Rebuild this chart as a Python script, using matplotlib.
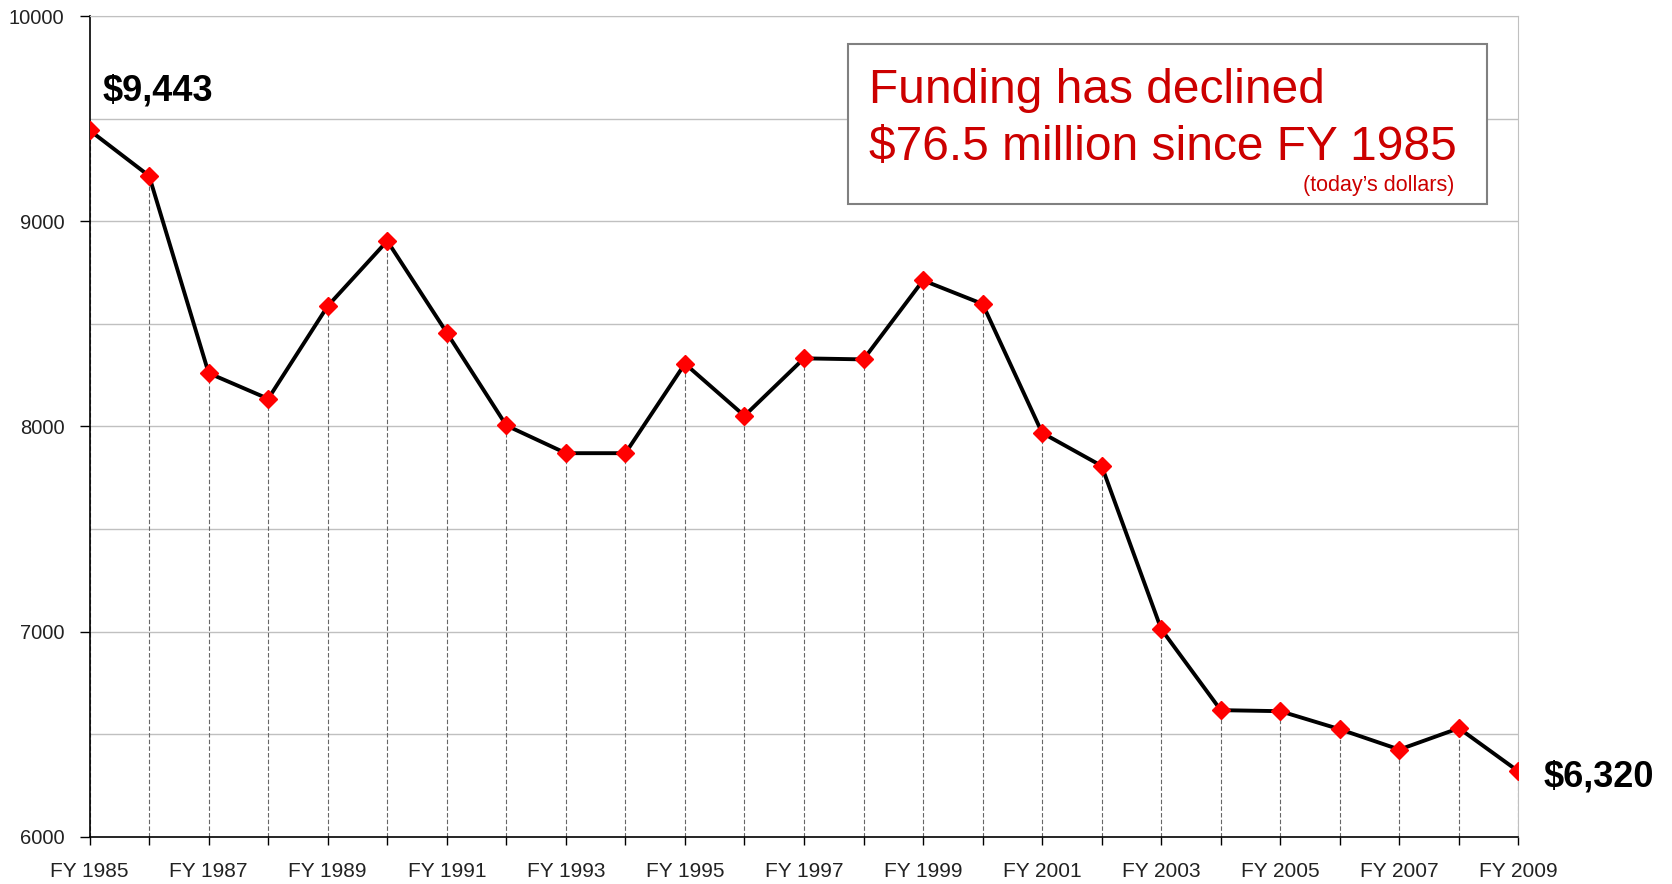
import numpy as np
import matplotlib.pyplot as plt
from matplotlib.patches import Rectangle

plt.rcParams['font.family'] = ['Liberation Sans', 'DejaVu Sans']

# funding by fiscal year (today's dollars)
years = list(range(1985, 2010))
funding = [9443, 9221, 8260, 8135, 8587, 8904, 8457, 8005, 7870, 7870,
           8306, 8052, 8332, 8327, 8712, 8597, 7969, 7808, 7013, 6618,
           6613, 6525, 6426, 6530, 6320]
tick_labels = ['FY %d' % y if (y - 1985) % 2 == 0 else '' for y in years]

W, H = 1672, 884
fig = plt.figure(figsize=(W / 100, H / 100), dpi=100)
ax = fig.add_axes([89.6 / W, 1 - 837 / H, (1518.4 - 89.6) / W, (837 - 16) / H])

ax.set_xlim(1985, 2009)
ax.set_ylim(6000, 10000)

# horizontal grid every 500
for g in np.arange(6500, 10001, 500):
    ax.axhline(g, color='#c0c0c0', lw=1.0, zorder=0)

# drop lines
ax.vlines(years, 6000, funding, colors='#666666', linestyles=(0, (4, 2)),
          lw=0.8, zorder=1)

ax.plot(years, funding, color='black', lw=2.8, zorder=3)
ax.plot(years, funding, ls='none', marker='D', ms=9, color='#ff0000',
        mec='#ff0000', zorder=4)

ax.set_xticks(years)
ax.set_xticklabels(tick_labels)
ax.set_yticks([6000, 7000, 8000, 9000, 10000])
ax.tick_params(axis='x', direction='out', length=6, width=1, labelsize=15,
               pad=12, colors='black', labelcolor='#222222')
ax.tick_params(axis='y', direction='out', length=7, width=1, labelsize=14.5,
               pad=11, labelcolor='#222222')

for s in ['top', 'right']:
    ax.spines[s].set_color('#c0c0c0')
ax.spines['left'].set_linewidth(1.2)
ax.spines['bottom'].set_linewidth(1.2)

ax.annotate('$9,443', xy=(years[0], funding[0]), xytext=(13, 30),
            textcoords='offset pixels', fontsize=26, fontweight='bold',
            va='baseline', ha='left', annotation_clip=False)
ax.annotate('$6,320', xy=(years[-1], funding[-1]), xytext=(25, -6),
            textcoords='offset pixels', fontsize=26, fontweight='bold',
            va='center', ha='left', annotation_clip=False)

# callout box
fig.add_artist(Rectangle((848 / W, 1 - 203.7 / H), (1487 - 848) / W, 160 / H,
                         transform=fig.transFigure, fill=True, fc='white',
                         ec='#808080', lw=1.5, zorder=5))
red = '#cc0000'
fig.text(869 / W, 1 - 103.4 / H, 'Funding has declined', color=red,
         fontsize=34.5, va='baseline', ha='left', zorder=6)
fig.text(869 / W, 1 - 160 / H, '$76.5 million since FY 1985', color=red,
         fontsize=34.5, va='baseline', ha='left', zorder=6)
fig.text(1454 / W, 1 - 191 / H, '(today\u2019s dollars)', color=red,
         fontsize=15.5, va='baseline', ha='right', zorder=6)

fig.savefig('out.png', dpi=100)
